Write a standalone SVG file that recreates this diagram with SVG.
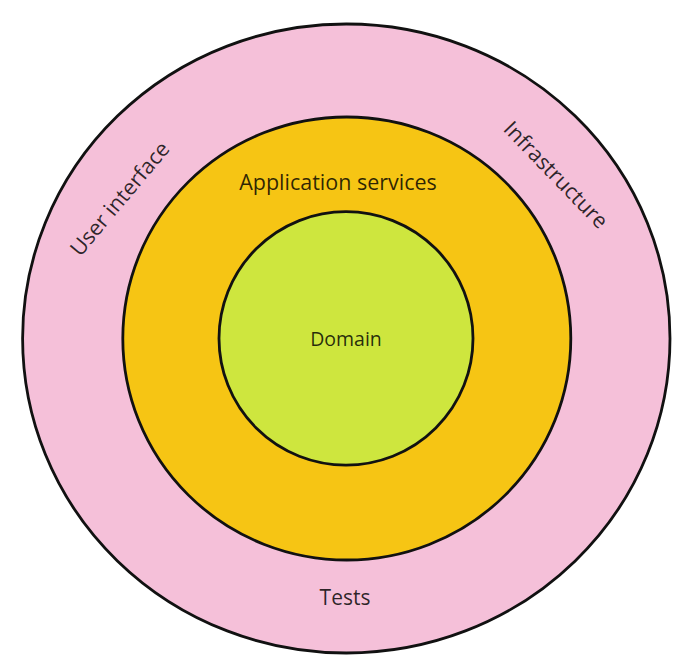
<svg xmlns="http://www.w3.org/2000/svg" width="692" height="670" viewBox="0 0 692 670">
<style>
.ring{stroke:#111;stroke-width:2.8}
.lbl{font-family:"Open Sans","Noto Sans",sans-serif;fill:#000;fill-opacity:0.82;text-anchor:middle}
</style>
<rect width="692" height="670" fill="#fff"/>
<g id="outer">
<ellipse class="ring" cx="346.3" cy="338.5" rx="323.7" ry="314.5" fill="#F5C0D9"/>
<text class="lbl" font-size="21.5" transform="translate(125.5,203.5) rotate(-50)">User interface</text>
<text class="lbl" font-size="21.5" transform="translate(550.5,180) rotate(46)">Infrastructure</text>
<text class="lbl" font-size="21" x="345" y="605">Tests</text>
</g>
<g id="middle">
<ellipse class="ring" cx="346.8" cy="338.5" rx="224" ry="221.5" fill="#F6C514"/>
<text class="lbl" font-size="21.5" x="338" y="190">Application services</text>
</g>
<g id="inner">
<ellipse class="ring" cx="346" cy="338.4" rx="127" ry="126.7" fill="#CEE63E"/>
<text class="lbl" font-size="19.5" x="346" y="345.7">Domain</text>
</g>
<g id="connectors"/>
</svg>
